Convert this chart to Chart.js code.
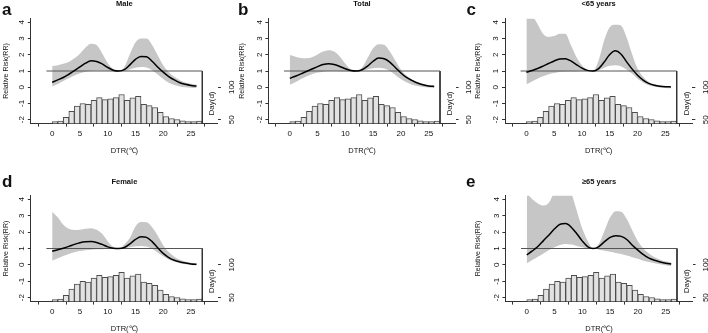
<!DOCTYPE html>
<html>
<head>
<meta charset="utf-8">
<script src="https://cdn.jsdelivr.net/npm/chart.js@4.4.0/dist/chart.umd.min.js"></script>
<style>
  html, body { margin: 0; padding: 0; background: #fff; overflow: hidden; }
  #wrap { position: relative; width: 708px; height: 333px; overflow: hidden; font-family: Arial, "Liberation Sans", sans-serif; color: #111; }
  canvas { position: absolute; }
  .tag { position: absolute; font-weight: bold; font-size: 17px; line-height: 17px; }
  .ttl { position: absolute; width: 120px; text-align: center; font-weight: bold; font-size: 7.5px; line-height: 8px; }
</style>
</head>
<body>
<div id="wrap">
  <canvas id="pA" width="236" height="166" style="left:0px;top:0px"></canvas>
  <canvas id="pB" width="236" height="166" style="left:236px;top:0px"></canvas>
  <canvas id="pC" width="236" height="166" style="left:472px;top:0px"></canvas>
  <canvas id="pD" width="236" height="166" style="left:0px;top:178px"></canvas>
  <canvas id="pE" width="236" height="166" style="left:472px;top:178px"></canvas>

  <div class="tag" style="left:2px;top:0.6px">a</div>
  <div class="tag" style="left:238px;top:0.6px">b</div>
  <div class="tag" style="left:466.5px;top:0.6px">c</div>
  <div class="tag" style="left:2px;top:172.6px">d</div>
  <div class="tag" style="left:466px;top:172.6px">e</div>

  <div class="ttl" style="left:64.4px;top:0px">Male</div>
  <div class="ttl" style="left:302px;top:0px">Total</div>
  <div class="ttl" style="left:538.6px;top:0px">&lt;65 years</div>
  <div class="ttl" style="left:64.4px;top:178.4px">Female</div>
  <div class="ttl" style="left:539px;top:178.4px">≥65 years</div>
</div>

<script>
//datos: DTR (eje x) y riesgo relativo por grupo
const dtr = [0, 1, 2, 3, 4, 5, 6, 7, 8, 9, 10, 11, 12, 13, 14, 15, 16, 17, 18, 19, 20, 21, 22, 23, 24, 25, 26];

const maleRR    = [0.31, 0.45, 0.60, 0.80, 1.02, 1.25, 1.48, 1.63, 1.58, 1.44, 1.22, 1.05, 1.00, 1.08, 1.38, 1.72, 1.90, 1.88, 1.60, 1.25, 0.93, 0.66, 0.45, 0.28, 0.18, 0.11, 0.07];
const maleUpper = [1.31, 1.36, 1.44, 1.56, 1.78, 2.07, 2.45, 2.68, 2.60, 2.10, 1.50, 1.13, 1.00, 1.25, 2.05, 2.75, 3.00, 3.00, 2.60, 1.97, 1.36, 0.94, 0.64, 0.43, 0.29, 0.22, 0.16];
const maleLower = [0.05, 0.20, 0.38, 0.55, 0.72, 0.86, 0.96, 1.00, 1.02, 1.01, 1.00, 0.99, 1.00, 1.02, 1.10, 1.20, 1.25, 1.22, 1.05, 0.78, 0.50, 0.28, 0.14, 0.05, 0.00, -0.03, -0.05];

const totalRR    = [0.55, 0.68, 0.82, 0.97, 1.12, 1.27, 1.40, 1.45, 1.40, 1.28, 1.14, 1.03, 1.00, 1.08, 1.30, 1.60, 1.80, 1.75, 1.55, 1.22, 0.88, 0.60, 0.42, 0.26, 0.15, 0.08, 0.05];
const totalUpper = [1.98, 1.88, 1.80, 1.78, 1.85, 2.02, 2.20, 2.28, 2.20, 1.90, 1.45, 1.10, 1.00, 1.20, 1.80, 2.40, 2.65, 2.62, 2.20, 1.65, 1.10, 0.72, 0.46, 0.30, 0.20, 0.14, 0.10];
const totalLower = [0.15, 0.30, 0.50, 0.66, 0.80, 0.90, 0.96, 1.00, 1.00, 0.99, 0.98, 0.98, 1.00, 1.02, 1.10, 1.17, 1.20, 1.15, 1.00, 0.76, 0.50, 0.30, 0.16, 0.07, 0.02, -0.02, -0.04];

const under65RR    = [0.92, 1.03, 1.15, 1.30, 1.46, 1.62, 1.74, 1.76, 1.62, 1.40, 1.18, 1.04, 1.00, 1.15, 1.55, 2.02, 2.24, 2.05, 1.58, 1.13, 0.74, 0.44, 0.24, 0.12, 0.06, 0.03, 0.02];
const under65Upper = [4.60, 4.40, 3.90, 3.30, 3.10, 3.15, 3.30, 3.30, 2.60, 1.87, 1.36, 1.05, 1.00, 1.66, 2.90, 3.70, 3.85, 3.80, 3.10, 2.07, 1.15, 0.64, 0.33, 0.20, 0.12, 0.08, 0.06];
const under65Lower = [0.18, 0.36, 0.53, 0.67, 0.80, 0.88, 0.94, 0.96, 0.97, 0.97, 0.98, 0.99, 1.00, 1.05, 1.20, 1.32, 1.36, 1.30, 1.09, 0.84, 0.53, 0.29, 0.12, 0.04, -0.01, -0.04, -0.06];

const femaleRR    = [0.83, 0.92, 1.02, 1.13, 1.25, 1.35, 1.41, 1.42, 1.37, 1.25, 1.10, 1.02, 1.00, 1.06, 1.28, 1.55, 1.72, 1.68, 1.42, 1.05, 0.70, 0.45, 0.28, 0.18, 0.11, 0.06, 0.04];
const femaleUpper = [3.25, 2.90, 2.45, 2.20, 2.13, 2.15, 2.20, 2.24, 2.15, 1.90, 1.45, 1.10, 1.00, 1.25, 1.65, 2.35, 2.62, 2.60, 2.30, 1.80, 1.20, 0.78, 0.50, 0.32, 0.20, 0.13, 0.09];
const femaleLower = [0.26, 0.40, 0.54, 0.66, 0.77, 0.84, 0.90, 0.93, 0.95, 0.96, 0.97, 0.99, 1.00, 1.03, 1.08, 1.13, 1.16, 1.12, 0.98, 0.75, 0.52, 0.33, 0.20, 0.10, 0.04, 0.00, -0.04];

const over65RR    = [0.61, 0.85, 1.12, 1.48, 1.83, 2.20, 2.48, 2.52, 2.30, 1.90, 1.45, 1.10, 1.00, 1.12, 1.42, 1.68, 1.78, 1.74, 1.55, 1.20, 0.90, 0.62, 0.41, 0.28, 0.18, 0.10, 0.06];
const over65Upper = [4.40, 4.00, 3.75, 3.62, 3.80, 4.50, 5.00, 5.00, 4.40, 3.30, 2.20, 1.45, 1.00, 1.30, 2.10, 2.90, 3.28, 3.25, 2.80, 2.10, 1.45, 1.00, 0.70, 0.47, 0.32, 0.22, 0.15];
const over65Lower = [0.10, 0.30, 0.50, 0.70, 0.91, 1.08, 1.22, 1.28, 1.24, 1.16, 1.07, 1.00, 1.00, 0.93, 0.86, 0.80, 0.73, 0.66, 0.57, 0.47, 0.37, 0.26, 0.17, 0.10, 0.04, -0.02, -0.07];

//histograma de dias por DTR (igual en todos los paneles)
const histBins = [0.5, 1.5, 2.5, 3.5, 4.5, 5.5, 6.5, 7.5, 8.5, 9.5, 10.5, 11.5, 12.5, 13.5, 14.5, 15.5, 16.5, 17.5, 18.5, 19.5, 20.5, 21.5, 22.5, 23.5, 24.5, 25.5, 26.5];
const histDays = [47, 48, 53.5, 63, 70.8, 75, 73.8, 80, 84, 81, 82, 84, 88.8, 80, 83.5, 86, 73.8, 71.8, 68.8, 61.5, 55, 51.8, 50.3, 48.3, 47, 47, 48];

//ticks
const xTicks = [0, 5, 10, 15, 20, 25];
const rrTicks = [-2, -1, 0, 1, 2, 3, 4];
const dayTicks = [50, 100];
const refRR = 1;

//limites de ejes
const X_MIN = -1.04, X_MAX = 27.04;
const Y_MIN = -2.24, Y_MAX = 4.24;
const DAY_MIN = 44, DAY_MAX = 206;

const fontFam = 'Arial, "Liberation Sans", sans-serif';
const axisColor = '#333';
const bandColor = '#c6c6c6';

//texto rotado (etiquetas de ticks verticales y Day(d))
function upText(ctx, txt, x, y) {
    ctx.save();
    ctx.translate(x, y);
    ctx.rotate(-Math.PI / 2);
    ctx.fillText(txt, 0, 0);
    ctx.restore();
}

const sideText = {
    id: 'sideText',
    afterDraw(chart) {
        const {ctx, chartArea, scales} = chart;
        ctx.save();
        ctx.fillStyle = '#111';
        ctx.textAlign = 'center';
        ctx.textBaseline = 'middle';
        ctx.font = '8px ' + fontFam;
        rrTicks.forEach(v => upText(ctx, String(v), chartArea.left - 9, scales.y.getPixelForValue(v)));
        dayTicks.forEach(v => upText(ctx, String(v), chartArea.right + 13.5, scales.y2.getPixelForValue(v)));
        upText(ctx, 'Day(d)', chartArea.right - 6, scales.y.getPixelForValue(-1));
        ctx.restore();
    }
};

//función para crear cada panel
function makePanel(canvasId, area, rr, upper, lower) {
    const canvas = document.getElementById(canvasId);
    const W = canvas.width, H = canvas.height;
    const pts = arr => dtr.map((x, i) => ({x: x, y: arr[i]}));

    new Chart(canvas.getContext('2d'), {
        type: 'line',
        data: {
            datasets: [
                {
                    label: 'upper',
                    data: pts(upper),
                    fill: '+1',
                    backgroundColor: bandColor,
                    borderColor: 'rgba(0,0,0,0)',
                    borderWidth: 1,
                    pointRadius: 0,
                    cubicInterpolationMode: 'monotone',
                    order: 4
                },
                {
                    label: 'lower',
                    data: pts(lower),
                    fill: false,
                    borderColor: 'rgba(0,0,0,0)',
                    borderWidth: 1,
                    pointRadius: 0,
                    cubicInterpolationMode: 'monotone',
                    order: 4
                },
                {
                    type: 'bar',
                    label: 'days',
                    data: histBins.map((x, i) => ({x: x, y: histDays[i]})),
                    yAxisID: 'y2',
                    base: DAY_MIN,
                    backgroundColor: '#e2e2e2',
                    borderColor: '#4d4d4d',
                    borderWidth: 1,
                    barPercentage: 1,
                    categoryPercentage: 1,
                    order: 3
                },
                {
                    label: 'ref',
                    data: [{x: X_MIN, y: refRR}, {x: X_MAX, y: refRR}],
                    borderColor: '#555',
                    borderWidth: 1,
                    pointRadius: 0,
                    order: 2
                },
                {
                    label: 'box',
                    data: [{x: X_MAX, y: refRR}, {x: X_MAX, y: Y_MIN}],
                    borderColor: axisColor,
                    borderWidth: 1,
                    pointRadius: 0,
                    order: 2
                },
                {
                    label: 'RR',
                    data: pts(rr),
                    borderColor: '#000',
                    borderWidth: 1.5,
                    pointRadius: 0,
                    cubicInterpolationMode: 'monotone',
                    order: 1
                }
            ]
        },
        options: {
            responsive: false,
            animation: false,
            devicePixelRatio: 1,
            layout: { padding: { top: area.top, left: 0, right: 0, bottom: 0 } },
            plugins: {
                legend: { display: false },
                tooltip: { enabled: false }
            },
            scales: {
                x: {
                    type: 'linear',
                    min: X_MIN,
                    max: X_MAX,
                    afterBuildTicks: s => { s.ticks = xTicks.map(v => ({value: v})); },
                    afterFit: s => { s.height = H - area.bottom; },
                    grid: { drawOnChartArea: false, tickLength: 3, color: axisColor },
                    border: { color: axisColor },
                    ticks: { font: { size: 8, family: fontFam }, color: '#111', padding: 2, maxRotation: 0, autoSkip: false },
                    title: {
                        display: true,
                        text: 'DTR(℃)',
                        font: { size: 7.5, family: fontFam },
                        color: '#111',
                        padding: { top: 0, bottom: 10.5 }
                    }
                },
                y: {
                    position: 'left',
                    min: Y_MIN,
                    max: Y_MAX,
                    afterBuildTicks: s => { s.ticks = rrTicks.map(v => ({value: v})); },
                    afterFit: s => { s.width = area.left; },
                    grid: { drawOnChartArea: false, tickLength: 3, color: axisColor },
                    border: { color: axisColor },
                    ticks: { display: false },
                    title: {
                        display: true,
                        text: 'Relative Risk(RR)',
                        font: { size: 7, family: fontFam },
                        color: '#111',
                        padding: { top: 2, bottom: 0 }
                    }
                },
                y2: {
                    position: 'right',
                    min: DAY_MIN,
                    max: DAY_MAX,
                    afterBuildTicks: s => { s.ticks = dayTicks.map(v => ({value: v})); },
                    afterFit: s => { s.width = W - area.right; },
                    grid: { drawOnChartArea: false, tickLength: 3, color: axisColor },
                    border: { display: false },
                    ticks: { display: false }
                }
            }
        },
        plugins: [sideText]
    });
}

//Ejecutar todos los paneles
makePanel('pA', {left: 30.8, right: 217.9, top: 18.4, bottom: 123.6}, maleRR, maleUpper, maleLower);
makePanel('pB', {left: 32.4, right: 219.6, top: 18.4, bottom: 123.6}, totalRR, totalUpper, totalLower);
makePanel('pC', {left: 33.0, right: 220.3, top: 18.4, bottom: 123.6}, under65RR, under65Upper, under65Lower);
makePanel('pD', {left: 30.8, right: 217.9, top: 17.4, bottom: 123.6}, femaleRR, femaleUpper, femaleLower);
makePanel('pE', {left: 33.4, right: 220.6, top: 17.4, bottom: 123.6}, over65RR, over65Upper, over65Lower);
</script>
</body>
</html>
